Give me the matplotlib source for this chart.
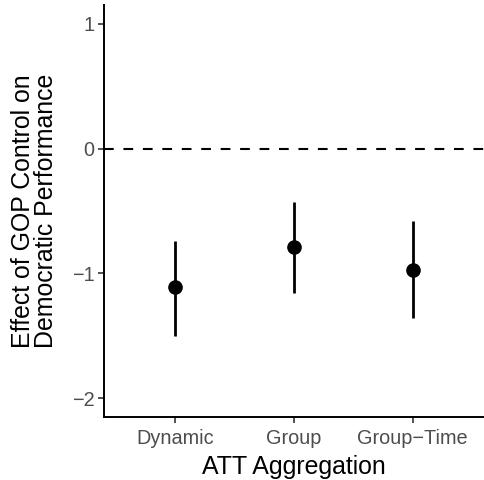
import matplotlib
matplotlib.use("Agg")
import matplotlib.pyplot as plt

plt.rcParams["font.family"] = ["Liberation Sans", "DejaVu Sans"]
plt.rcParams["lines.scale_dashes"] = False

categories = ["Dynamic", "Group", "Group\u2212Time"]
estimates = [-1.11, -0.79, -0.97]
ci_lower = [-1.50, -1.16, -1.36]
ci_upper = [-0.74, -0.43, -0.58]
y_ticks = [1, 0, -1, -2]
y_tick_labels = ["1", "0", "\u22121", "\u22122"]


def main():
    fig = plt.figure(figsize=(4.84, 4.80), dpi=100)
    ax = fig.add_axes([104 / 484, 63 / 480, 380 / 484, 412 / 480])

    x = list(range(1, len(categories) + 1))
    ax.axhline(0, color="black", lw=1.5, dashes=(7, 7), zorder=1)
    ax.vlines(x, ci_lower, ci_upper, color="black", lw=2.0, zorder=2)
    ax.plot(x, estimates, "o", color="black", markersize=9.5, zorder=3)

    ax.set_xlim(0.4, 3.6)
    ax.set_ylim(-2.15, 1.15)
    ax.set_xticks(x)
    ax.set_xticklabels(categories)
    ax.set_yticks(y_ticks)
    ax.set_yticklabels(y_tick_labels)

    for side in ["top", "right"]:
        ax.spines[side].set_visible(False)
    for side in ["left", "bottom"]:
        ax.spines[side].set_linewidth(1.4)

    ax.tick_params(axis="both", length=4, width=1.2, color="#333333",
                   labelsize=14.3, labelcolor="#4D4D4D", pad=3)
    ax.tick_params(axis="x", pad=5)

    ax.set_xlabel("ATT Aggregation", fontsize=17.9, labelpad=5)
    ax.set_ylabel("Effect of GOP Control on\nDemocratic Performance",
                  fontsize=17.9, labelpad=10, linespacing=0.95)

    fig.savefig("out.png", dpi=100)
    plt.close(fig)


if __name__ == "__main__":
    main()
